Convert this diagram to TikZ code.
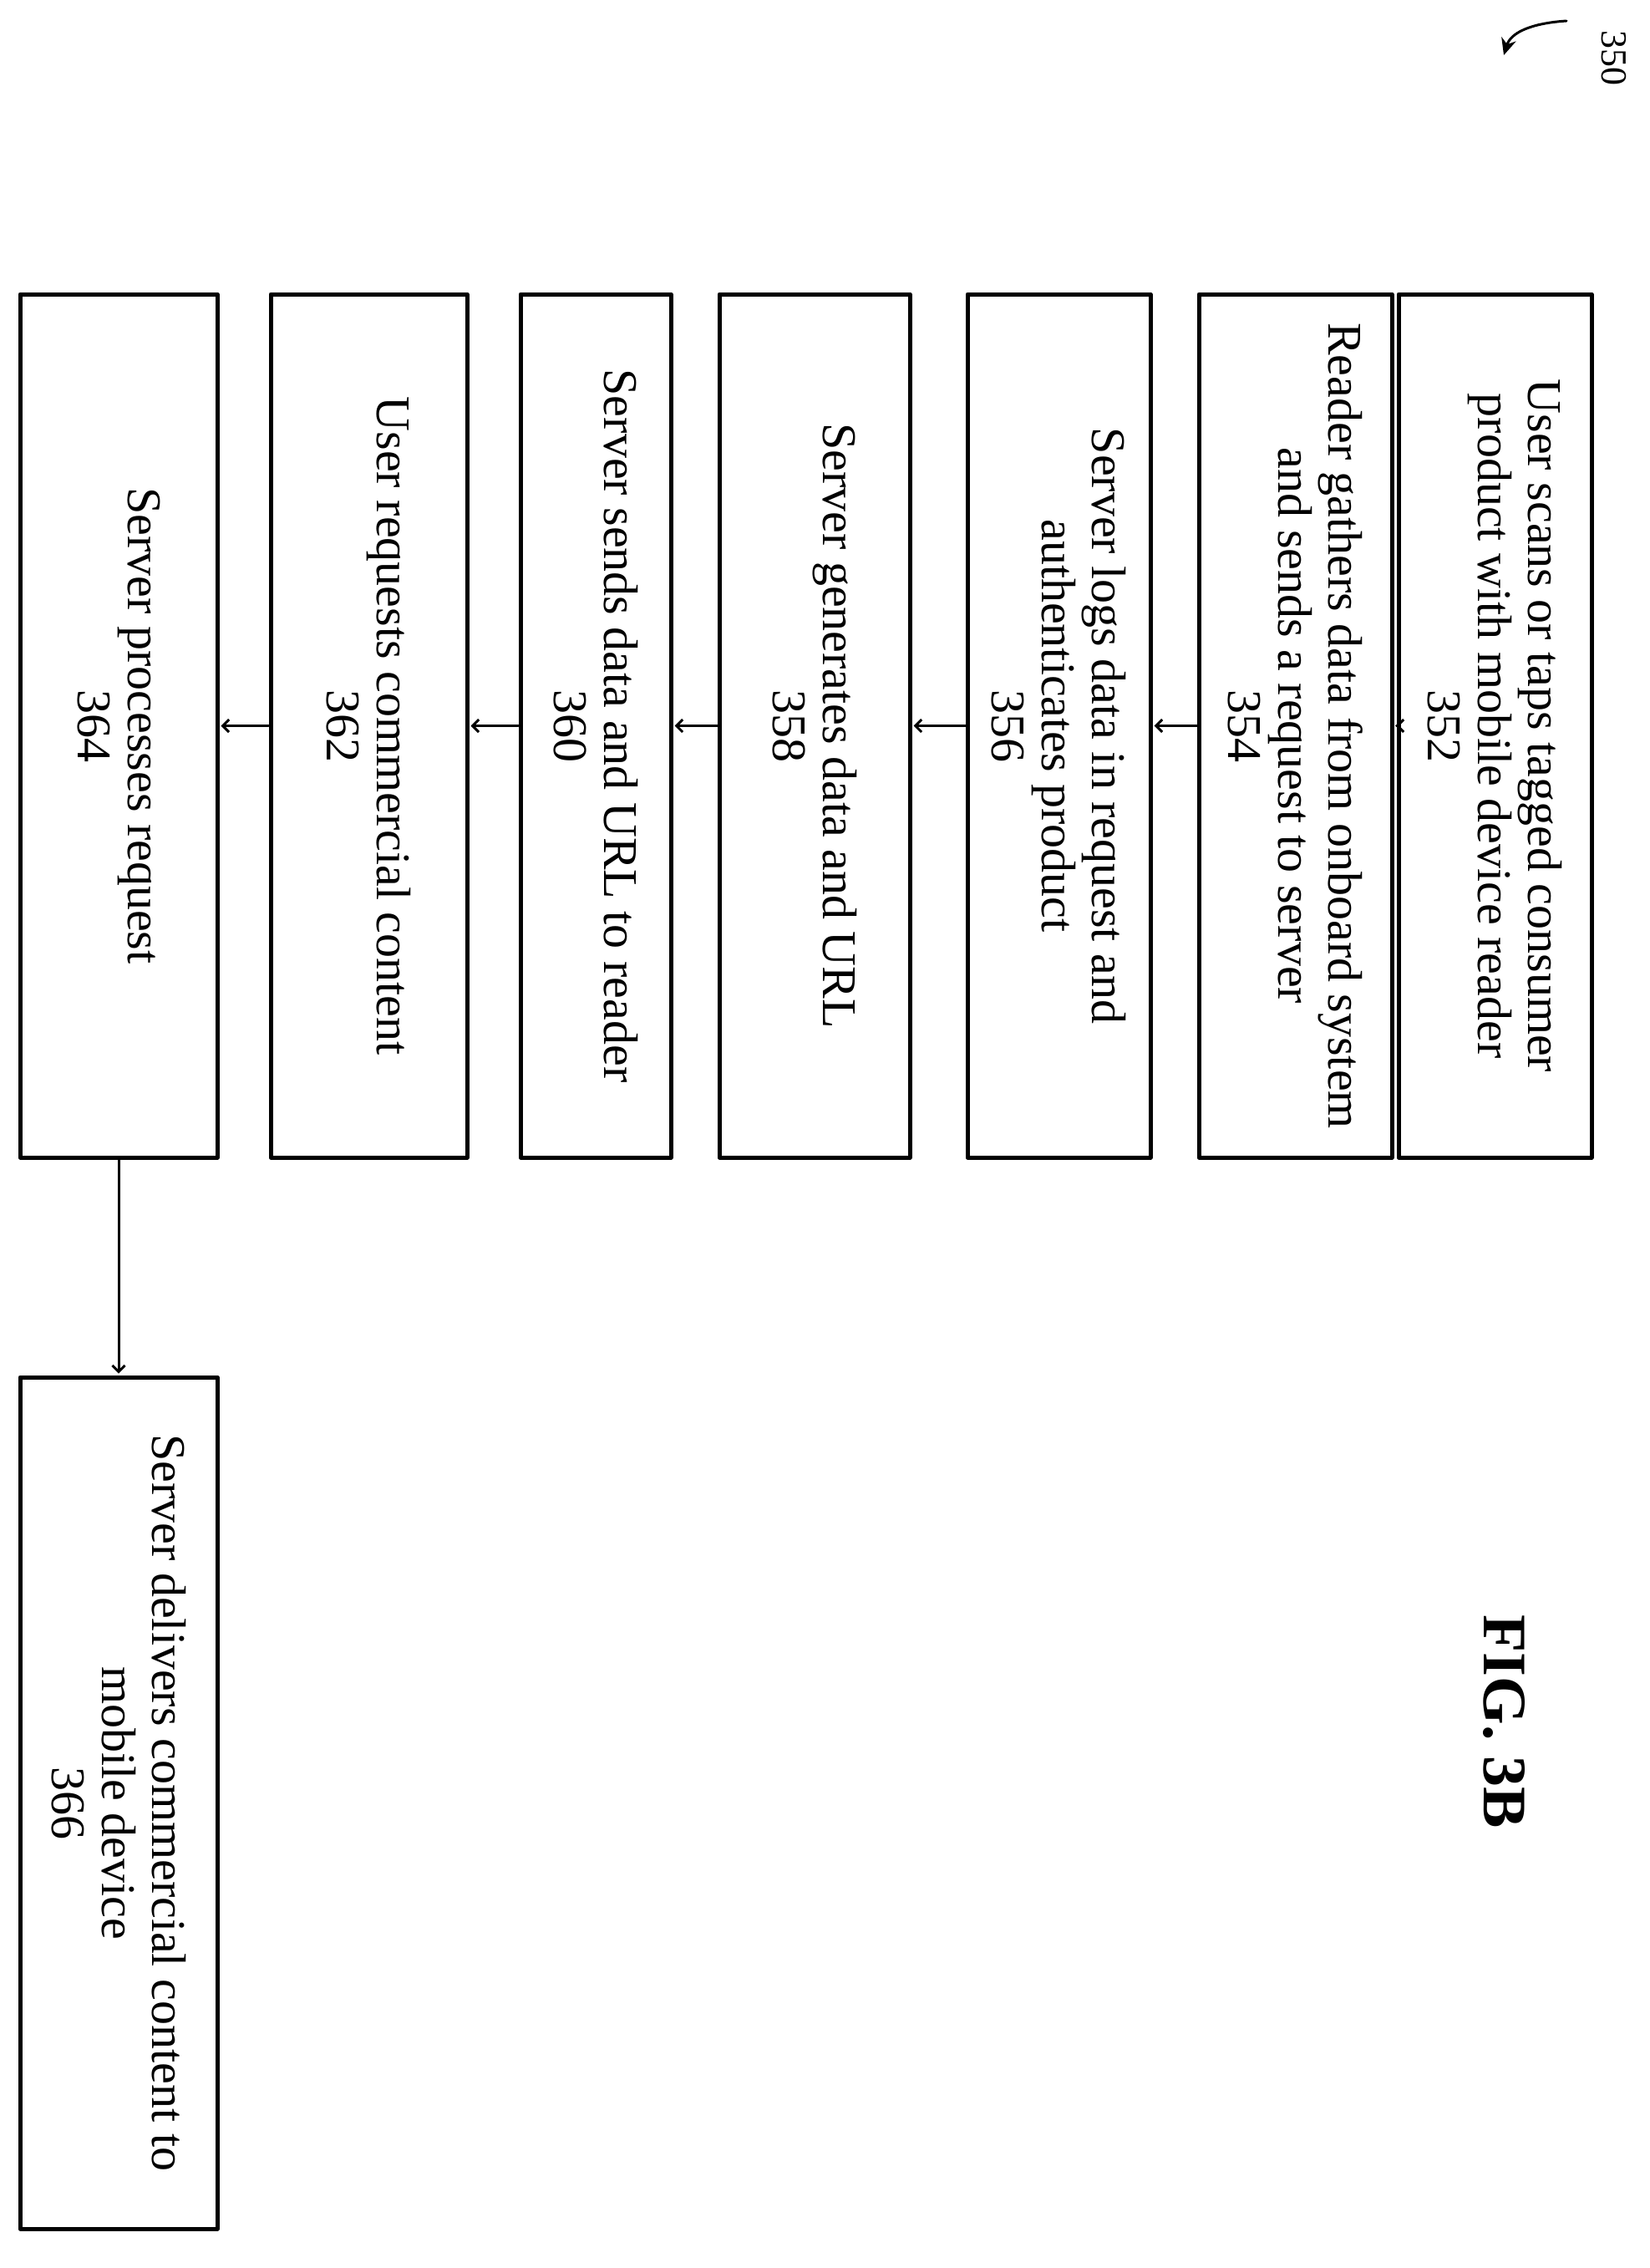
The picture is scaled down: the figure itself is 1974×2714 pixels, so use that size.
\documentclass[tikz,border=0pt]{standalone}
\usepackage{fontspec}
\setmainfont{Liberation Serif}
\usetikzlibrary{arrows.meta, positioning}

\begin{document}
\begin{tikzpicture}[x=1pt, y=-1pt, >=Straight Barb, line cap=round, line join=round]
	
	%======================
	% STYLES
	%======================
	\tikzset{
		stepbox/.style={draw, line width=5pt, rotate=-90, minimum width=1033pt,
			align=center, inner sep=0pt, font=\fontsize{58}{60}\selectfont},
		flow/.style={line width=3pt, ->, shorten >=2pt}
	}
	
	\useasboundingbox (0,0) rectangle (1974,2714);
	
	%======================
	% BOXES
	%======================
	\node[stepbox, minimum height=231pt] (s352) at (1789.5,868.5) {User scans or taps tagged consumer\\product with mobile device reader\\352};
	\node[stepbox, minimum height=231pt] (s354) at (1550.5,868.5) {Reader gathers data from onboard system\\and sends a request to server\\354};
	\node[stepbox, minimum height=219pt] (s356) at (1267.5,868.5) {Server logs data in request and\\authenticates product\\356};
	\node[stepbox, minimum height=228pt] (s358) at (975,868.5) {Server generates data and URL\\358};
	\node[stepbox, minimum height=180pt] (s360) at (713,868.5) {Server sends data and URL to reader\\360};
	\node[stepbox, minimum height=235pt] (s362) at (441.5,868.5) {User requests commercial content\\362};
	\node[stepbox, minimum height=236pt] (s364) at (142,868.5) {Server processes request\\364};
	\node[stepbox, minimum height=236pt, minimum width=1019pt] (s366) at (142,2157.5) {Server delivers commercial content to\\mobile device\\366};
	
	%======================
	% CONNECTORS
	%======================
	\draw[flow] (s352.south) -- (s354.north);
	\draw[flow] (s354.south) -- (s356.north);
	\draw[flow] (s356.south) -- (s358.north);
	\draw[flow] (s358.south) -- (s360.north);
	\draw[flow] (s360.south) -- (s362.north);
	\draw[flow] (s362.south) -- (s364.north);
	\draw[flow] (s364.east) -- (s366.west);
	
	%======================
	% LABELS
	%======================
	\node[rotate=-90, font=\fontsize{74}{78}\selectfont\bfseries] (fig) at (1800,2060) {FIG. 3B};
	\node[rotate=-90, font=\fontsize{44}{48}\selectfont] (ref) at (1932,70) {350};
	\coordinate (refstart) at (1875,25);
	\coordinate (reftip) at (1800,66);
	\draw[line width=3pt, -{Stealth[length=20pt, width=18pt]}] (refstart) .. controls (1830,28) and (1808,40) .. (reftip);
	
\end{tikzpicture}
\end{document}
